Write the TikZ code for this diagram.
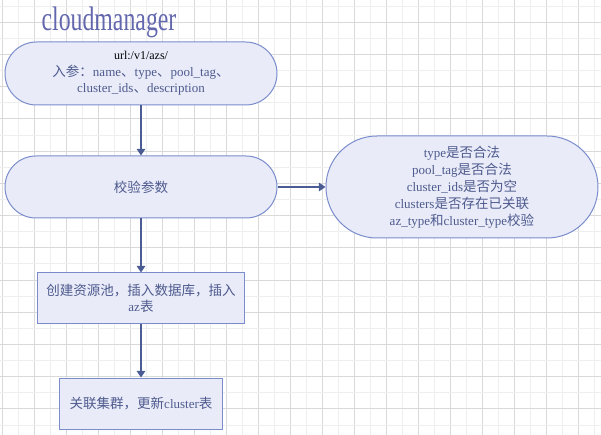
\documentclass[tikz,border=0pt]{standalone}
\usepackage{fontspec}
\setmainfont{Liberation Serif}
\newfontfamily\cjk[Scale=1.04]{Noto Sans CJK SC}
\usetikzlibrary{arrows.meta}

\definecolor{gridmajor}{HTML}{D9D9D9}
\definecolor{gridminor}{HTML}{EEEEEE}
\definecolor{fillcol}{HTML}{E9ECF8}
\definecolor{bordercol}{HTML}{7A8CCB}
\definecolor{linecol}{HTML}{4B5C95}
\definecolor{textcol}{HTML}{4E5A8E}
\definecolor{titlecol}{HTML}{6367AE}

\begin{document}
\begin{tikzpicture}[x=0.75pt,y=-0.75pt,
    every node/.style={font=\fontsize{9.75pt}{12.5pt}\selectfont, text=textcol, align=center},
    term/.style={draw=bordercol, fill=fillcol, line width=0.75pt, minimum width=204pt},
    proc/.style={draw=bordercol, fill=fillcol, line width=0.75pt, minimum height=38.25pt},
    flow/.style={draw=linecol, line width=0.9pt, -{Triangle[length=5pt,width=6.5pt]}}]

    \useasboundingbox (0,0) rectangle (601,435);

    % grille de fond
    \foreach \i in {0,...,37}{
        \pgfmathsetmacro{\gx}{2+16*\i}
        \ifodd\i \def\gc{gridminor}\else \def\gc{gridmajor}\fi
        \draw[\gc, line width=0.75pt] (\gx,0) -- (\gx,435);
    }
    \foreach \j in {0,...,26}{
        \pgfmathsetmacro{\gy}{6.2+16.11*\j}
        \ifodd\j \def\gc{gridmajor}\else \def\gc{gridminor}\fi
        \draw[\gc, line width=0.75pt] (0,\gy) -- (601,\gy);
    }

    % titre
    \node[text=titlecol, anchor=base] (title) at (109,31)
        {\scalebox{0.7}[1]{\fontsize{25.5pt}{30pt}\selectfont cloudmanager}};

    % blocs
    \node[term, minimum height=47.25pt, rounded corners=23.6pt] (api) at (141,73.5)
        {{\color{black}\fontsize{9pt}{12pt}\selectfont url:/v1/azs/}\\
         {\cjk 入参：}name{\cjk 、}type{\cjk 、}pool\_tag{\cjk 、}\\
         cluster\_ids{\cjk 、}description};
    \node[term, minimum height=46.5pt, rounded corners=23.2pt] (check) at (141,187)
        {\cjk 校验参数};
    \node[term, minimum height=76.5pt, rounded corners=38.2pt,
          font=\fontsize{9.75pt}{12.75pt}\selectfont] (rules) at (462,187)
        {type{\cjk 是否合法}\\
         pool\_tag{\cjk 是否合法}\\
         cluster\_ids{\cjk 是否为空}\\
         clusters{\cjk 是否存在已关联}\\
         az\_type{\cjk 和}cluster\_type{\cjk 校验}};
    \node[proc, minimum width=155.25pt] (create) at (141,298.5)
        {{\cjk 创建资源池，插入数据库，插入}\\az{\cjk 表}};
    \node[proc, minimum width=122.25pt] (link) at (141,403.5)
        {{\cjk 关联集群，更新}cluster{\cjk 表}};

    % liaisons
    \draw[flow] (api) -- (check);
    \draw[flow] (check) -- (rules);
    \draw[flow] (check) -- (create);
    \draw[flow] (create) -- (link);
\end{tikzpicture}
\end{document}
